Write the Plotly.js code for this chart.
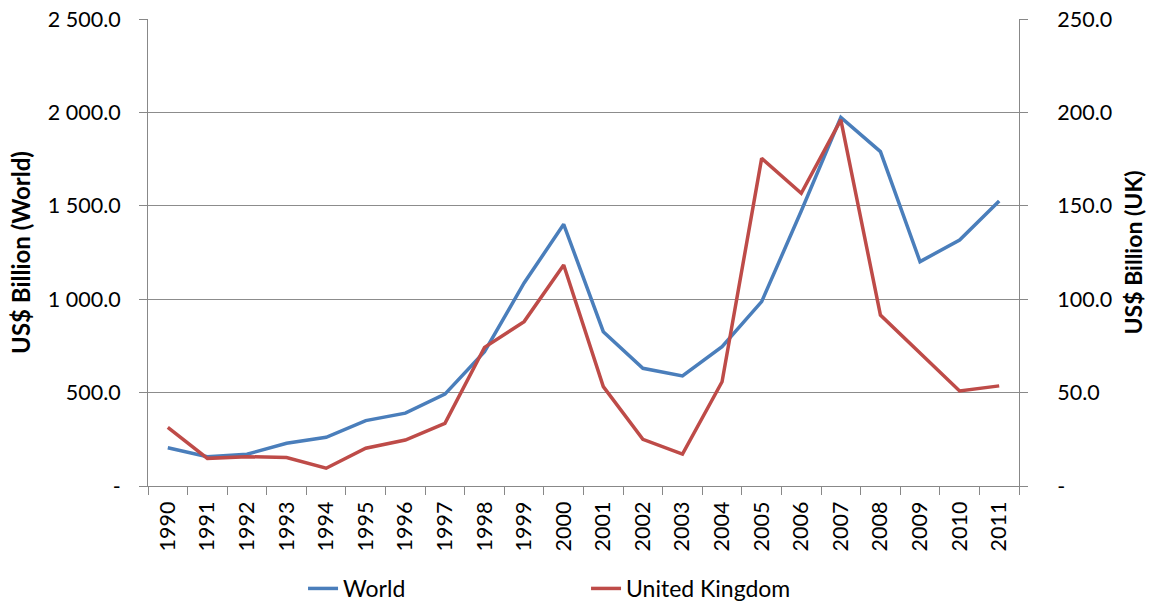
<!DOCTYPE html>
<html>
<head>
<meta charset="utf-8">
<script src="https://cdn.plot.ly/plotly-3.0.1.min.js"></script>
<style>html,body{margin:0;padding:0;background:#fff;}#chart{width:1156px;height:610px;}</style>
</head>
<body>
<div id="chart"></div>
<script>
const years = ["1990","1991","1992","1993","1994","1995","1996","1997","1998","1999","2000","2001","2002","2003","2004","2005","2006","2007","2008","2009","2010","2011"];
const worldValues = [205, 157, 170, 229, 261, 350, 390, 492, 719, 1087, 1401, 826, 630, 589, 746, 987, 1472, 1973, 1790, 1201, 1317, 1526];
const ukValues = [31.4, 14.8, 15.7, 15.2, 9.5, 20.2, 24.6, 33.5, 74.2, 88.0, 118.3, 53.2, 25.0, 17.1, 55.8, 175.4, 156.7, 196.0, 91.5, 71.0, 50.9, 53.6];
const leftTickVals = [0, 500, 1000, 1500, 2000, 2500];
const leftTickText = ["-", "500.0", "1 000.0", "1 500.0", "2 000.0", "2 500.0"];
const rightTickVals = [0, 50, 100, 150, 200, 250];
const rightTickText = ["-", "50.0", "100.0", "150.0", "200.0", "250.0"];

const FONT = "Lato, 'Open Sans', sans-serif";
const traces = [
  {x: years, y: worldValues, name: "World", type: "scatter", mode: "lines",
   line: {color: "#4A7EBB", width: 3.5}, yaxis: "y"},
  {x: years, y: ukValues, name: "United Kingdom", type: "scatter", mode: "lines",
   line: {color: "#BE4B48", width: 3.5}, yaxis: "y2"}
];
const layout = {
  width: 1156, height: 610,
  margin: {l: 148, r: 137, t: 19, b: 124, autoexpand: false},
  paper_bgcolor: "#fff", plot_bgcolor: "#fff",
  font: {family: FONT, size: 21.5, color: "#000"},
  showlegend: true,
  legend: {orientation: "h", x: 0.178, y: -0.2655, xanchor: "left", yanchor: "bottom",
           font: {family: FONT, size: 23, color: "#000"}, entrywidth: 238, entrywidthmode: "pixels",
           itemwidth: 30},
  xaxis: {type: "category", range: [-0.5, 21.5], tickson: "boundaries", ticks: "outside",
          ticklen: 8, tickcolor: "#888", showline: true, linecolor: "#888", linewidth: 1,
          showgrid: false, tickangle: -90, tickfont: {family: FONT, size: 21.5},
          ticklabelstandoff: 6, zeroline: false, automargin: false},
  yaxis: {range: [0, 2500], tickvals: leftTickVals, ticktext: leftTickText, automargin: false,
          showgrid: true, gridcolor: "#8c8c8c", gridwidth: 1.2, showline: true, linecolor: "#888",
          ticks: "outside", ticklen: 8, tickcolor: "#888", zeroline: false,
          tickfont: {family: FONT, size: 21.5}, ticklabelstandoff: 14,
          title: {text: "<b>US$ Billion (World)</b>", font: {family: FONT, size: 24}, standoff: 10}},
  yaxis2: {range: [0, 250], tickvals: rightTickVals, ticktext: rightTickText, overlaying: "y",
           side: "right", showgrid: false, showline: true, linecolor: "#888", automargin: false,
           ticks: "outside", ticklen: 8, tickcolor: "#888", zeroline: false,
           tickfont: {family: FONT, size: 21.5}, ticklabelstandoff: 25,
           title: {text: "<b>US$ Billion (UK)</b>", font: {family: FONT, size: 23}, standoff: 14}}
};
Plotly.newPlot("chart", traces, layout, {displayModeBar: false, staticPlot: true});
</script>
</body>
</html>
